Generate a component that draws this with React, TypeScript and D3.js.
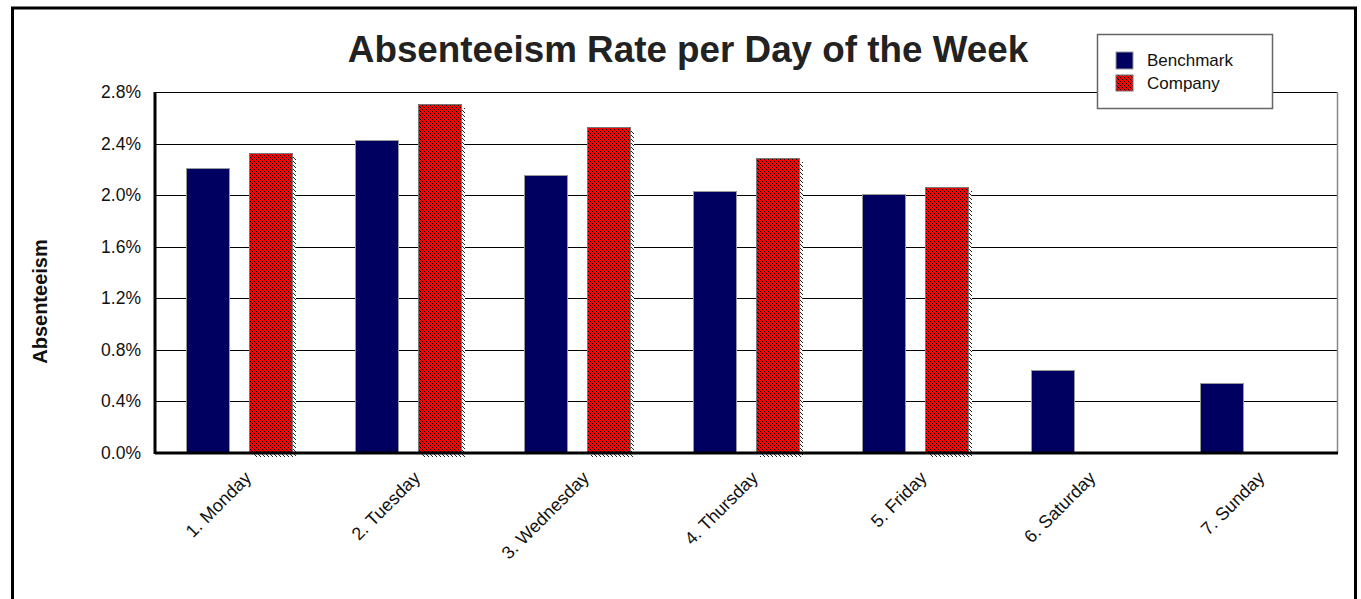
import React, { useEffect, useRef } from "react";
import * as d3 from "d3";

const days = [
  "1. Monday",
  "2. Tuesday",
  "3. Wednesday",
  "4. Thursday",
  "5. Friday",
  "6. Saturday",
  "7. Sunday",
];
const seriesNames = ["Benchmark", "Company"];
const benchmark = [2.21, 2.43, 2.16, 2.03, 2.01, 0.64, 0.54];
const company: (number | null)[] = [2.33, 2.71, 2.53, 2.29, 2.06, null, null];
const yTicks = [0, 0.4, 0.8, 1.2, 1.6, 2.0, 2.4, 2.8];

const W = 1361;
const H = 599;
const FONT = "'Liberation Sans', Arial, sans-serif";

// pixel steps of a "\" hatch inside a 4x4 tile
const hatchPixels = [0, 1, 2, 3];

const App = () => {
  const ref = useRef<SVGSVGElement>(null);

  useEffect(() => {
    if (!ref.current) return;
    const svg = d3.select(ref.current);
    svg.selectAll("*").remove();

    const plot = { left: 155, right: 1337, top: 92, bottom: 453 };

    const x0 = d3
      .scaleBand<string>()
      .domain(days)
      .range([plot.left, plot.right])
      .paddingInner(0.372)
      .paddingOuter(0.186);
    const x1 = d3
      .scaleBand<string>()
      .domain(seriesNames)
      .range([0, x0.bandwidth()])
      .paddingInner(0.317);
    const y = d3.scaleLinear().domain([0, 2.8]).range([plot.bottom, plot.top]);

    // patterns (legend swatch + bar shadows)
    const defs = svg.append("defs");
    const makeHatch = (id: string, bg: string, fg: string) => {
      const p = defs
        .append("pattern")
        .attr("id", id)
        .attr("patternUnits", "userSpaceOnUse")
        .attr("width", 4)
        .attr("height", 4);
      p.append("rect").attr("width", 4).attr("height", 4).attr("fill", bg);
      p.selectAll("rect.px")
        .data(hatchPixels)
        .join("rect")
        .attr("class", "px")
        .attr("x", (d) => d)
        .attr("y", (d) => d)
        .attr("width", 1.4)
        .attr("height", 1)
        .attr("fill", fg)
        .attr("shape-rendering", "crispEdges");
    };
    makeHatch("redHatch", "#ff0000", "#000");
    makeHatch("shadowHatch", "#fff", "#222");

    // outer frame
    svg
      .append("rect")
      .attr("x", 12.5)
      .attr("y", 8)
      .attr("width", 1343)
      .attr("height", 620)
      .attr("fill", "#fff")
      .attr("stroke", "#000")
      .attr("stroke-width", 3);

    // title
    svg
      .append("text")
      .attr("x", 688)
      .attr("y", 62)
      .attr("text-anchor", "middle")
      .attr("font-family", FONT)
      .attr("font-weight", "bold")
      .attr("font-size", 36.8)
      .attr("fill", "#222")
      .text("Absenteeism Rate per Day of the Week");

    // gridlines
    svg
      .append("g")
      .selectAll("line")
      .data(yTicks.slice(1))
      .join("line")
      .attr("x1", plot.left)
      .attr("x2", plot.right)
      .attr("y1", (d) => Math.round(y(d)) + 0.5)
      .attr("y2", (d) => Math.round(y(d)) + 0.5)
      .attr("stroke", "#000")
      .attr("stroke-width", 1);

    // right border of plot
    svg
      .append("line")
      .attr("x1", plot.right + 0.5)
      .attr("x2", plot.right + 0.5)
      .attr("y1", plot.top)
      .attr("y2", plot.bottom)
      .attr("stroke", "#888")
      .attr("stroke-width", 1.5);

    // y tick labels
    svg
      .append("g")
      .selectAll("text")
      .data(yTicks)
      .join("text")
      .attr("x", 141)
      .attr("y", (d) => y(d) + 6)
      .attr("text-anchor", "end")
      .attr("font-family", FONT)
      .attr("font-size", 17.5)
      .attr("fill", "#111")
      .text((d) => d3.format(".1f")(d) + "%");

    // y axis title
    svg
      .append("text")
      .attr("transform", `translate(47,${(plot.top + plot.bottom) / 2 + 29}) rotate(-90)`)
      .attr("text-anchor", "middle")
      .attr("font-family", FONT)
      .attr("font-weight", "bold")
      .attr("font-size", 20)
      .attr("fill", "#111")
      .text("Absenteeism");

    // benchmark bars
    const bw = Math.round(x1.bandwidth());
    svg
      .append("g")
      .selectAll("rect")
      .data(benchmark)
      .join("rect")
      .attr("x", (d, i) => Math.round((x0(days[i]) ?? 0) + (x1("Benchmark") ?? 0)) + 0.5)
      .attr("y", (d) => Math.round(y(d)) + 0.5)
      .attr("width", bw)
      .attr("height", (d) => plot.bottom - Math.round(y(d)))
      .attr("fill", "#000060")
      .attr("stroke", "#999")
      .attr("stroke-width", 1);

    // company bars: hatched shadow, red fill, black diagonal stripes
    const comp = company
      .map((v, i) => ({ v, day: days[i] }))
      .filter((d) => d.v !== null) as { v: number; day: string }[];
    const cx = (d: { day: string }) =>
      Math.round((x0(d.day) ?? 0) + (x1("Company") ?? 0));

    comp.forEach((d, k) => {
      const bx = cx(d);
      const by = Math.round(y(d.v));
      const bh = plot.bottom - by;

      svg
        .append("rect")
        .attr("x", bx + 4)
        .attr("y", by + 4)
        .attr("width", bw)
        .attr("height", bh)
        .attr("fill", "url(#shadowHatch)");

      defs
        .append("clipPath")
        .attr("id", `barClip${k}`)
        .append("rect")
        .attr("x", bx)
        .attr("y", by)
        .attr("width", bw)
        .attr("height", bh);

      // stripes follow x - y = c, with c on one global phase so every bar renders alike
      const lo = bx - by - bh - 4;
      const start = lo - ((((lo - 1) % 4) + 4) % 4);
      const cs = d3.range(start, bx + bw - by + 4, 4);

      const g = svg.append("g").attr("clip-path", `url(#barClip${k})`);
      g.append("rect")
        .attr("x", bx)
        .attr("y", by)
        .attr("width", bw)
        .attr("height", bh)
        .attr("fill", "#ff0000");
      g.selectAll("line")
        .data(cs)
        .join("line")
        .attr("x1", (c) => by + c)
        .attr("y1", by)
        .attr("x2", (c) => by + bh + c)
        .attr("y2", by + bh)
        .attr("stroke", "#000")
        .attr("stroke-width", 1)
        .attr("shape-rendering", "crispEdges");

      svg
        .append("rect")
        .attr("x", bx + 0.5)
        .attr("y", by + 0.5)
        .attr("width", bw)
        .attr("height", bh)
        .attr("fill", "none")
        .attr("stroke", "#777")
        .attr("stroke-width", 1);
    });

    // axes lines
    svg
      .append("line")
      .attr("x1", plot.left)
      .attr("x2", plot.left)
      .attr("y1", plot.top)
      .attr("y2", plot.bottom + 1)
      .attr("stroke", "#000")
      .attr("stroke-width", 3);
    svg
      .append("line")
      .attr("x1", plot.left)
      .attr("x2", plot.right + 1)
      .attr("y1", plot.bottom)
      .attr("y2", plot.bottom)
      .attr("stroke", "#000")
      .attr("stroke-width", 3);

    // x labels
    svg
      .append("g")
      .selectAll("text")
      .data(days)
      .join("text")
      .attr(
        "transform",
        (d) => `translate(${(x0(d) ?? 0) + x0.bandwidth() / 2 + 13},${plot.bottom + 26}) rotate(-45)`
      )
      .attr("text-anchor", "end")
      .attr("font-family", FONT)
      .attr("font-size", 18)
      .attr("fill", "#111")
      .text((d) => d);

    // legend
    const lg = svg.append("g").attr("transform", "translate(1097,34)");
    lg.append("rect")
      .attr("x", 0.5)
      .attr("y", 0.5)
      .attr("width", 175)
      .attr("height", 74)
      .attr("fill", "#fff")
      .attr("stroke", "#666")
      .attr("stroke-width", 1.5);
    lg.append("rect")
      .attr("x", 19)
      .attr("y", 18)
      .attr("width", 17)
      .attr("height", 17)
      .attr("fill", "#000060")
      .attr("stroke", "#999");
    lg.append("rect")
      .attr("x", 19)
      .attr("y", 41)
      .attr("width", 17)
      .attr("height", 16)
      .attr("fill", "url(#redHatch)")
      .attr("stroke", "#777");
    lg.selectAll("text.lbl")
      .data(seriesNames)
      .join("text")
      .attr("class", "lbl")
      .attr("x", 50)
      .attr("y", (d, i) => 32 + i * 23)
      .attr("font-family", FONT)
      .attr("font-size", 17)
      .attr("fill", "#111")
      .text((d) => d);
  }, []);

  return (
    <svg
      ref={ref}
      width={W}
      height={H}
      style={{ position: "absolute", left: 0, top: 0, background: "#fff" }}
    />
  );
};

export default App;
